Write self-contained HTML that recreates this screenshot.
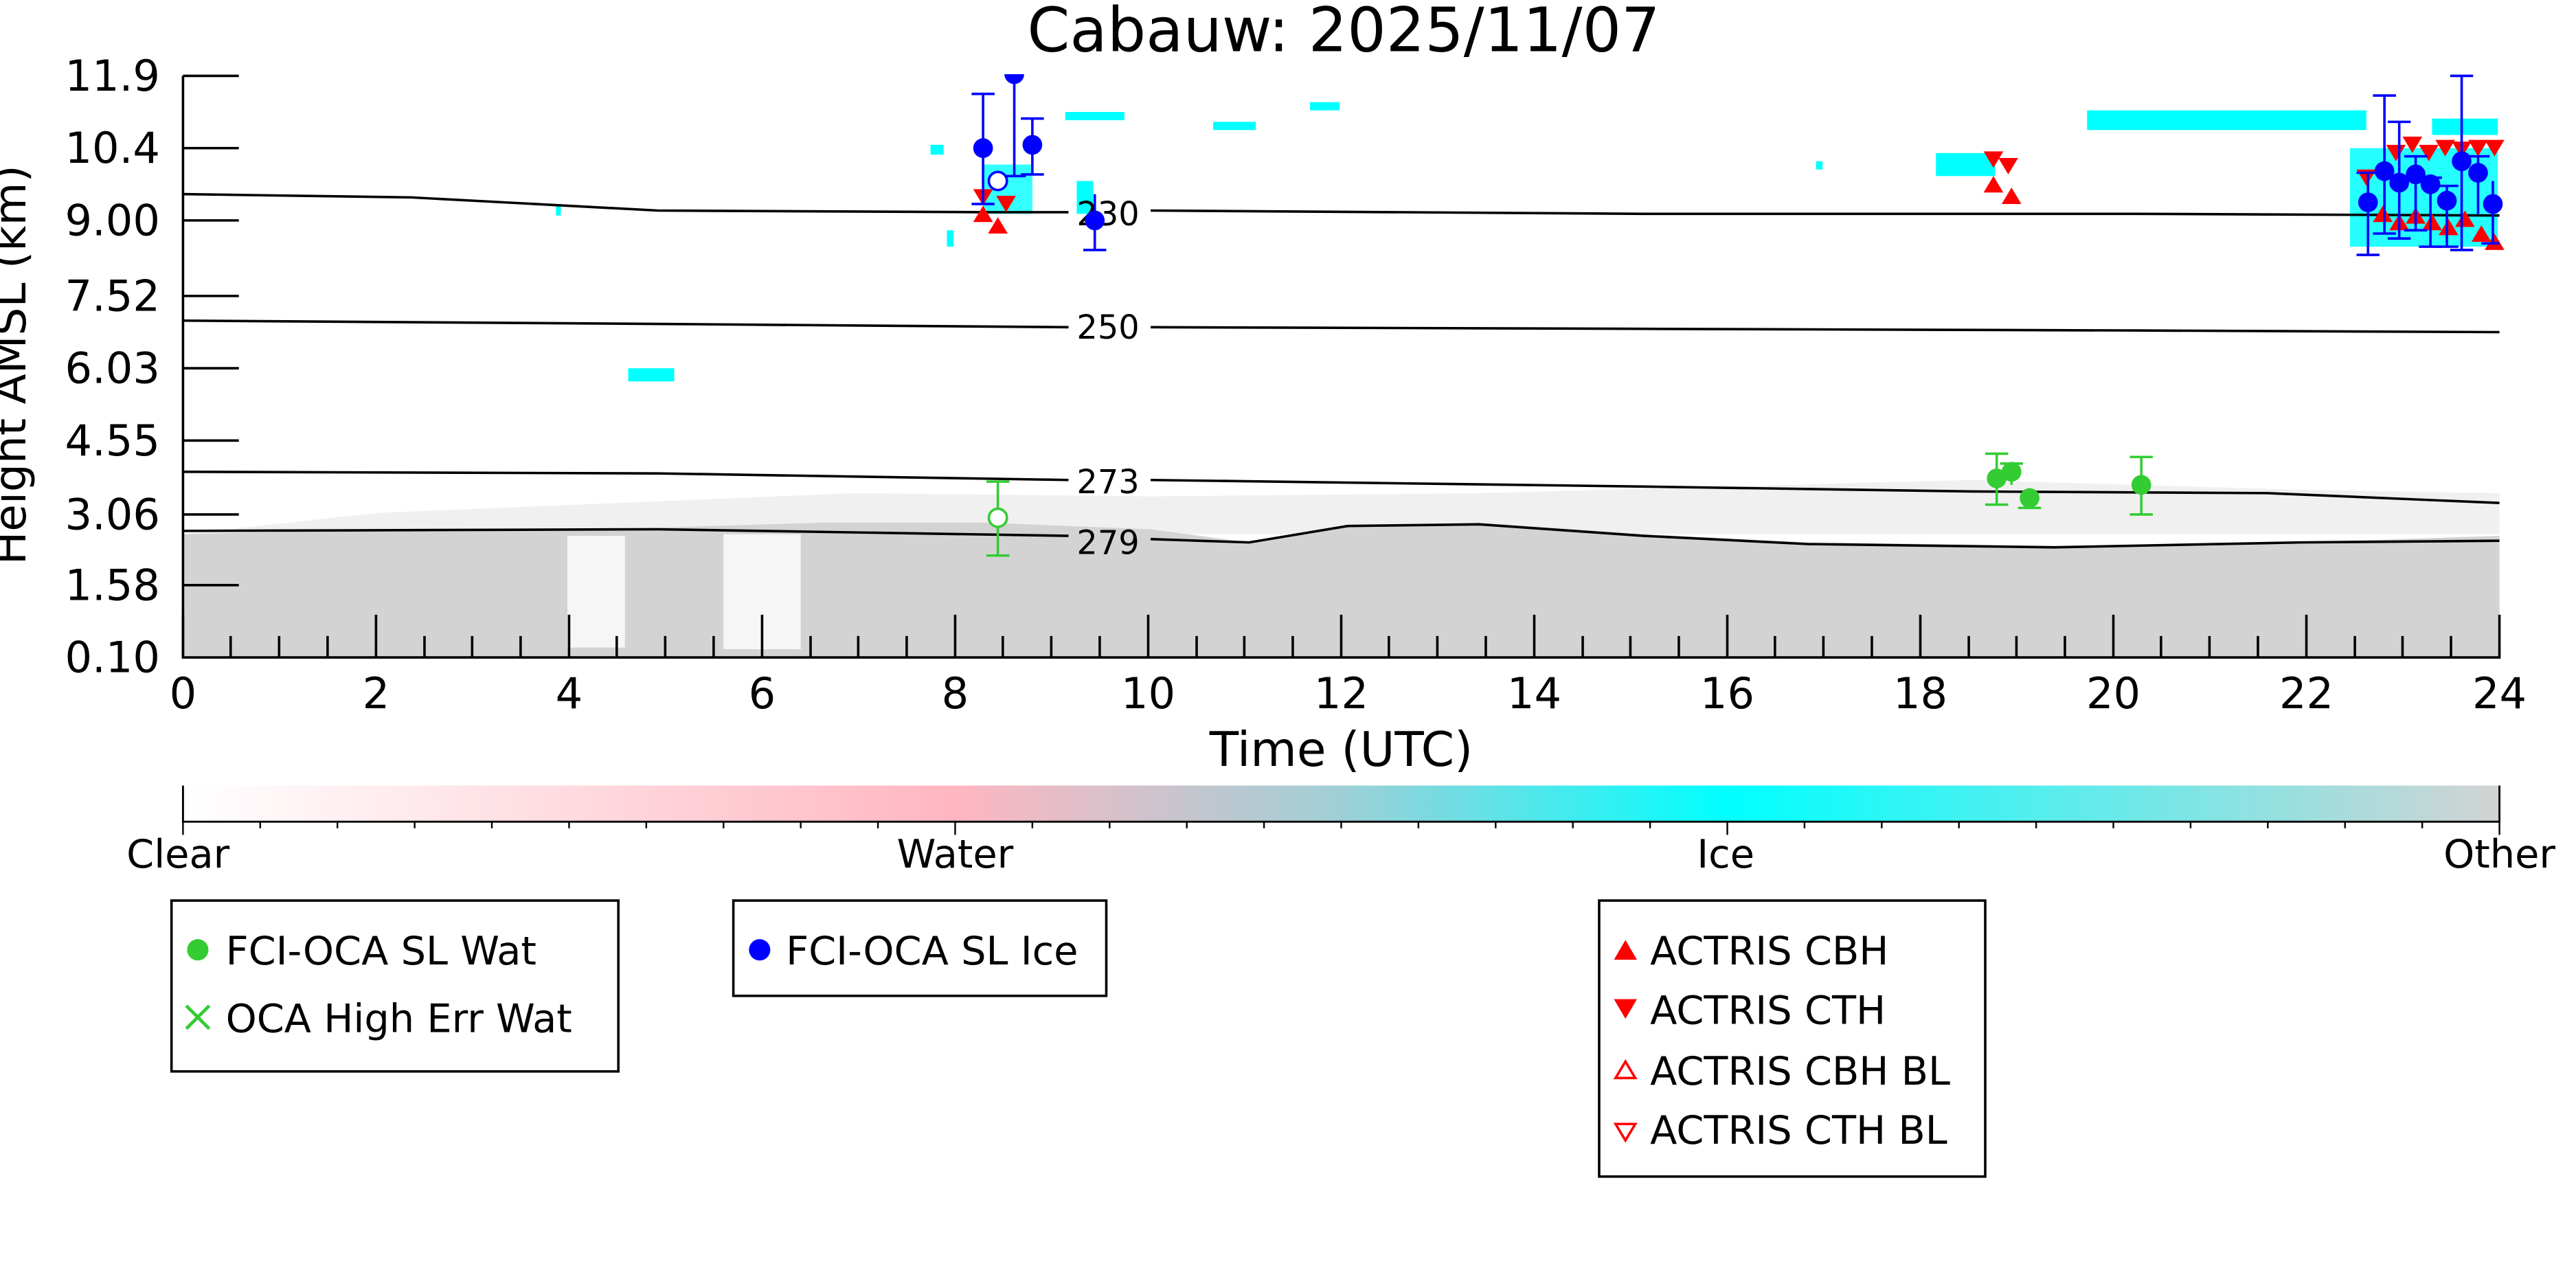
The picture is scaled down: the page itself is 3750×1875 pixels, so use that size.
<!DOCTYPE html>
<html><head><meta charset="utf-8"><style>
html,body{margin:0;padding:0;background:#fff;}
svg{display:block;}
text{font-family:"DejaVu Sans","Liberation Sans",sans-serif;}
</style></head><body>
<svg width="3750" height="1875" viewBox="0 0 1562.5 781.25" xmlns="http://www.w3.org/2000/svg">
<defs>
<linearGradient id="cb" x1="0" x2="1" y1="0" y2="0">
<stop offset="0" stop-color="#ffffff"/>
<stop offset="0.333" stop-color="#ffb6c1"/>
<stop offset="0.5" stop-color="#9fcfd6"/>
<stop offset="0.667" stop-color="#00ffff"/>
<stop offset="1" stop-color="#d3d3d3"/>
</linearGradient>
</defs>
<text x="815" y="31" font-size="37" text-anchor="middle">Cabauw: 2025/11/07</text>
<g transform="translate(111,46) scale(0.9965) translate(-111,-46)">
<path d="M111,400 L111,325 L200,323 L300,322 L400,321 L500,318 L600,318 L700,322 L760,330 L820,320 L900,318 L1000,325 L1100,330 L1250,332 L1400,330 L1521,326 L1521,400 Z" fill="#d3d3d3"/>
<path d="M230,312 L400,305 L520,300 L700,302 L900,300 L1200,292 L1400,298 L1521,300 L1521,325 L111,325 Z" fill="#d3d3d3" opacity="0.35"/>
<rect x="345" y="326" width="35" height="68" fill="#fff" opacity="0.8"/>
<rect x="440" y="325" width="47" height="70" fill="#fff" opacity="0.8"/>

<g fill="#00ffff">
<rect x="382" y="224" width="28" height="8"/>
<rect x="566" y="88" width="8" height="6"/>
<rect x="598" y="100" width="30" height="30" opacity="0.8"/>
<rect x="576" y="140" width="4" height="10"/>
<rect x="648" y="68" width="36" height="5"/>
<rect x="738" y="74" width="26" height="5"/>
<rect x="797" y="62" width="18" height="5"/>
<rect x="655" y="110" width="10" height="20"/>
<rect x="1178" y="93" width="36" height="14"/>
<rect x="1270" y="67" width="170" height="12"/>
<rect x="1430" y="90" width="90" height="60" opacity="0.85"/>
<rect x="1480" y="72" width="40" height="10"/>
<rect x="338" y="124" width="3" height="7"/>
<rect x="1105" y="98" width="4" height="5"/>
</g>

<g fill="none" stroke="#000" stroke-width="1.5">
<path d="M111,118 L250,120 L400,128 L600,129 L650,129 M700,128 L1000,130 L1300,130 L1521,131"/>
<path d="M111,195 L400,197 L650,199 M700,199 L1000,200 L1300,201 L1521,202"/>
<path d="M111,287 L400,288 L650,292 M700,292 L1000,296 L1200,299 L1380,300 L1521,306"/>
<path d="M111,323 L400,322 L650,326 M700,328 L760,330 L820,320 L900,319 L1000,326 L1100,331 L1250,333 L1400,330 L1521,329"/>
</g>
<g font-size="20">
<text x="655" y="137">230</text>
<text x="655" y="206">250</text>
<text x="655" y="300">273</text>
<text x="655" y="337">279</text>
</g>

<g fill="#ff0000">
<path d="M592,135 l6,-10 l6,10Z M601,142 l6,-10 l6,10Z M592,115 l6,10 l6,-10Z M606,119 l6,10 l6,-10Z"/>
<path d="M1207,117 l6,-10 l6,10Z M1218,124 l6,-10 l6,10Z M1207,92 l6,10 l6,-10Z M1216,96 l6,10 l6,-10Z"/>
<path d="M1434,103 l6,10 l6,-10Z M1452,88 l6,10 l6,-10Z M1462,83 l6,10 l6,-10Z M1472,88 l6,10 l6,-10Z M1482,85 l6,10 l6,-10Z M1492,86 l6,10 l6,-10Z M1502,85 l6,10 l6,-10Z M1512,85 l6,10 l6,-10Z"/>
<path d="M1444,135 l6,-10 l6,10Z M1454,140 l6,-10 l6,10Z M1464,136 l6,-10 l6,10Z M1474,140 l6,-10 l6,10Z M1484,143 l6,-10 l6,10Z M1494,138 l6,-10 l6,10Z M1504,147 l6,-10 l6,10Z M1512,152 l6,-10 l6,10Z"/>
</g>

<g stroke="#0000ff" stroke-width="1.5" fill="none">
<path d="M598,57 V124 M591,57 H605 M591,124 H605"/>
<path d="M617,45 V107 M610,107 H624"/>
<path d="M628,72 V106 M621,72 H635 M621,106 H635"/>
<path d="M666,118 V152 M659,152 H673"/>
<path d="M1441,105 V155 M1434,155 H1448 M1434,105 H1448"/>
<path d="M1451,58 V142 M1444,58 H1458 M1444,142 H1458"/>
<path d="M1460,74 V145 M1453,74 H1467 M1453,145 H1467"/>
<path d="M1470,95 V140 M1463,95 H1477 M1463,140 H1477"/>
<path d="M1479,108 V150 M1472,108 H1486 M1472,150 H1486"/>
<path d="M1489,113 V150 M1482,113 H1496 M1482,150 H1496"/>
<path d="M1498,46 V152 M1491,46 H1505 M1491,152 H1505"/>
<path d="M1508,95 V130 M1501,95 H1515"/>
<path d="M1517,110 V148 M1510,148 H1521"/>
</g>
<g fill="#0000ff">
<circle cx="598" cy="90" r="6"/><circle cx="628" cy="88" r="6"/><circle cx="666" cy="134" r="6"/>
<path d="M611,45 a6,6 0 0 0 12,0Z"/>
<circle cx="1441" cy="123" r="6"/><circle cx="1451" cy="104" r="6"/><circle cx="1460" cy="111" r="6"/>
<circle cx="1470" cy="106" r="6"/><circle cx="1479" cy="112" r="6"/><circle cx="1489" cy="122" r="6"/>
<circle cx="1498" cy="98" r="6"/><circle cx="1508" cy="105" r="6"/><circle cx="1517" cy="124" r="6"/>
</g>
<circle cx="607" cy="110" r="5.5" fill="#fff" stroke="#0000ff" stroke-width="1.5"/>

<g stroke="#33cc33" stroke-width="1.5" fill="none">
<path d="M607,293 V338 M600,293 H614 M600,338 H614"/>
<path d="M1215,276 V307 M1208,276 H1222 M1208,307 H1222"/>
<path d="M1224,282 V295 M1217,282 H1231"/>
<path d="M1235,297 V309 M1228,309 H1242"/>
<path d="M1303,278 V313 M1296,278 H1310 M1296,313 H1310"/>
</g>
<circle cx="607" cy="315" r="5.5" fill="#fff" stroke="#33cc33" stroke-width="1.5"/>
<g fill="#33cc33"><circle cx="1215" cy="291" r="6"/><circle cx="1224" cy="287" r="6"/><circle cx="1235" cy="303" r="6"/><circle cx="1303" cy="295" r="6"/></g>

<g stroke="#000" stroke-width="1.5" fill="none">
<path d="M111,46 V400 H1521 V374"/>
<path d="M111,46 H145 M111,90 H145 M111,134 H145 M111,180 H145 M111,224 H145 M111,268 H145 M111,313 H145 M111,356 H145"/>
</g>
<g stroke="#000" stroke-width="1.5">
<path d="M111,374V400 M228.5,374V400 M346,374V400 M463.5,374V400 M581,374V400 M698.5,374V400 M816,374V400 M933.5,374V400 M1051,374V400 M1168.5,374V400 M1286,374V400 M1403.5,374V400"/>
<path d="M140,387V400 M169.5,387V400 M199,387V400 M258,387V400 M287,387V400 M316.5,387V400 M375,387V400 M404.5,387V400 M434,387V400 M493,387V400 M522,387V400 M551.5,387V400 M610,387V400 M639.5,387V400 M669,387V400 M728,387V400 M757,387V400 M786.5,387V400 M845,387V400 M874.5,387V400 M904,387V400 M963,387V400 M992,387V400 M1021.5,387V400 M1080,387V400 M1109.5,387V400 M1139,387V400 M1198,387V400 M1227,387V400 M1256.5,387V400 M1315,387V400 M1344.5,387V400 M1374,387V400 M1433,387V400 M1462,387V400 M1491.5,387V400"/>
</g>
<g font-size="26" text-anchor="end">
<text x="97" y="55">11.9</text><text x="97" y="99">10.4</text><text x="97" y="143">9.00</text>
<text x="97" y="189">7.52</text><text x="97" y="233">6.03</text><text x="97" y="277">4.55</text>
<text x="97" y="322">3.06</text><text x="97" y="365">1.58</text><text x="97" y="409">0.10</text>
</g>
<g font-size="26" text-anchor="middle">
<text x="111" y="431">0</text><text x="228.5" y="431">2</text><text x="346" y="431">4</text><text x="463.5" y="431">6</text>
<text x="581" y="431">8</text><text x="698.5" y="431">10</text><text x="816" y="431">12</text><text x="933.5" y="431">14</text>
<text x="1051" y="431">16</text><text x="1168.5" y="431">18</text><text x="1286" y="431">20</text><text x="1403.5" y="431">22</text><text x="1521" y="431">24</text>
<text x="816" y="466" font-size="29">Time (UTC)</text>
<text transform="translate(15,222) rotate(-90)" font-size="27">Height AMSL (km)</text>
</g>

<rect x="111" y="478" width="1410" height="22" fill="url(#cb)"/>
<path d="M111,478 V500 H1521 V478" stroke="#000" stroke-width="1.2" fill="none"/>
<g stroke="#000" stroke-width="1">
<path d="M111,500v8 M581,500v8 M1051,500v8 M1521,500v8"/>
<path d="M158,500v4 M205,500v4 M252,500v4 M299,500v4 M346,500v4 M393,500v4 M440,500v4 M487,500v4 M534,500v4 M628,500v4 M675,500v4 M722,500v4 M769,500v4 M816,500v4 M863,500v4 M910,500v4 M957,500v4 M1004,500v4 M1098,500v4 M1145,500v4 M1192,500v4 M1239,500v4 M1286,500v4 M1333,500v4 M1380,500v4 M1427,500v4 M1474,500v4"/>
</g>
<g font-size="24" text-anchor="middle">
<text x="108" y="528">Clear</text><text x="581" y="528">Water</text><text x="1050" y="528">Ice</text><text x="1521" y="528">Other</text>
</g>

<g fill="#fff" stroke="#000" stroke-width="1.5">
<rect x="104" y="548" width="272" height="104"/>
<rect x="446" y="548" width="227" height="58"/>
<rect x="973" y="548" width="235" height="168"/>
</g>
<g font-size="24">
<circle cx="120" cy="578" r="6.5" fill="#33cc33"/>
<text x="137" y="587">FCI-OCA SL Wat</text>
<path d="M113,612 l14,14 M127,612 l-14,14" stroke="#33cc33" stroke-width="2"/>
<text x="137" y="628">OCA High Err Wat</text>
<circle cx="462" cy="578" r="6.5" fill="#0000ff"/>
<text x="478" y="587">FCI-OCA SL Ice</text>
<path d="M982,584 l7,-12 l7,12Z" fill="#ff0000"/>
<text x="1004" y="587">ACTRIS CBH</text>
<path d="M982,608 l7,12 l7,-12Z" fill="#ff0000"/>
<text x="1004" y="623">ACTRIS CTH</text>
<path d="M983,656 l6,-10 l6,10Z" fill="none" stroke="#ff0000" stroke-width="1.5"/>
<text x="1004" y="660">ACTRIS CBH BL</text>
<path d="M983,684 l6,10 l6,-10Z" fill="none" stroke="#ff0000" stroke-width="1.5"/>
<text x="1004" y="696">ACTRIS CTH BL</text>
</g>
</g>
</svg>
</body></html>
